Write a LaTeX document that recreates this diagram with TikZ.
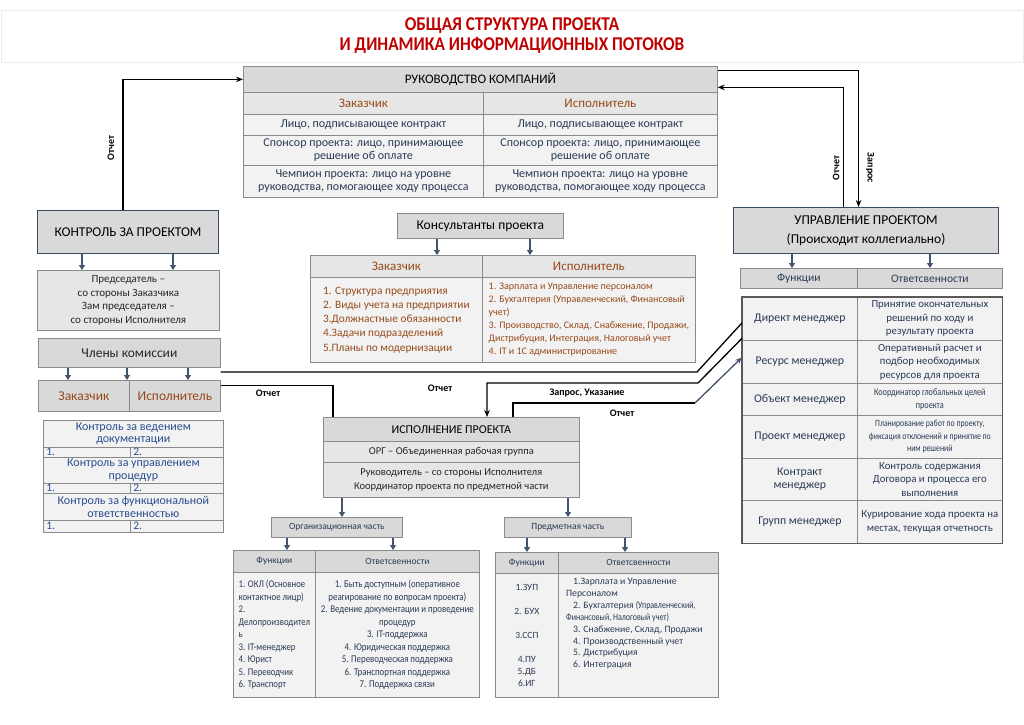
\documentclass[tikz,border=0pt]{standalone}
\usepackage{fontspec}
\setmainfont{Carlito}
\newfontfamily\cond[FakeStretch=0.82]{Carlito}
\newfontfamily\condb[FakeStretch=0.86]{Carlito}
\newfontfamily\titlef[FakeStretch=0.88]{Carlito}
\usetikzlibrary{arrows.meta}
\newcommand\fs[2]{\fontsize{#1}{#2}\selectfont}
\definecolor{hdr}{HTML}{D9D9D9}
\definecolor{subc}{HTML}{E6E6E6}
\definecolor{rowc}{HTML}{F2F2F2}
\definecolor{bordc}{HTML}{8A8A8A}
\definecolor{mainbord}{HTML}{3B4A66}
\definecolor{navy}{HTML}{2B3A55}
\definecolor{brownt}{HTML}{974A1A}
\definecolor{bluet}{HTML}{2A4D8F}
\definecolor{arr}{HTML}{44546A}
\definecolor{titler}{HTML}{C00000}
\definecolor{dtext}{HTML}{262626}
\tikzset{
 cellb/.style={draw=bordc, line width=0.7pt, inner sep=1pt, align=center, anchor=north west},
 hd/.style={cellb, fill=hdr, text=black, font=\fs{13}{15}},
 mainb/.style={hd, draw=mainbord, line width=1.1pt, font=\fs{13.5}{19}},
 sub/.style={cellb, fill=subc, text=brownt, font=\fs{13}{15}},
 rw/.style={cellb, fill=rowc, text=navy, font=\fs{12}{13}},
 gr/.style={cellb, fill=subc, text=dtext, font=\fs{11}{13.5}},
 kt/.style={cellb, fill=rowc, text=bluet, font=\fs{12}{12.5}},
 numc/.style={cellb, fill=rowc, text=bluet, font=\fs{11.5}{11}, inner ysep=0pt, text height=7pt, text depth=1.5pt},
 sh/.style={cellb, fill=hdr, text=navy, font=\fs{9.5}{11}},
 gar/.style={draw=arr, line width=1.5pt, -{Triangle[length=5pt,width=6pt]}},
 flow/.style={draw=black, line width=1.3pt},
 flowa/.style={flow, -{Stealth[length=7pt,width=5.5pt]}},
 lbl/.style={font=\bfseries\fs{10}{12}, inner sep=0pt, text=black},
}
\newcommand\bx[7]{\node[#6, minimum width={(#4-#2)*1pt}, minimum height={(#5-#3)*1pt}] (#1) at (#2,#3) {#7};}
\newcommand\bxl[7]{\node[#6, align=left, inner xsep=3pt, text width={(#4-#2-6)*1pt}, minimum height={(#5-#3)*1pt}] (#1) at (#2,#3) {#7};}
\begin{document}
\begin{tikzpicture}[x=1pt,y=-1pt]
\useasboundingbox[fill=white] (0,0) rectangle (1024,724);
% title
\bx{tframe}{1}{10}{1023}{62}{draw=black!8, line width=0.6pt, anchor=north west}{}
\node[font=\titlef\bfseries\fs{19.5}{20}, text=titler, align=center] (title) at (512,36) {ОБЩАЯ СТРУКТУРА ПРОЕКТА\\И ДИНАМИКА ИНФОРМАЦИОННЫХ ПОТОКОВ};
% management
\bx{mgmt}{243}{66}{717}{92}{hd}{РУКОВОДСТВО КОМПАНИЙ}
\bx{mz}{243}{92}{483}{114}{sub}{Заказчик}
\bx{mi}{483}{92}{717}{114}{sub}{Исполнитель}
\bx{mz1}{243}{114}{483}{135}{rw}{Лицо, подписывающее контракт}
\bx{mi1}{483}{114}{717}{135}{rw}{Лицо, подписывающее контракт}
\bx{mz2}{243}{135}{483}{165}{rw}{Спонсор проекта: лицо, принимающее\\решение об оплате}
\bx{mi2}{483}{135}{717}{165}{rw}{Спонсор проекта: лицо, принимающее\\решение об оплате}
\bx{mz3}{243}{165}{483}{197}{rw}{Чемпион проекта: лицо на уровне\\руководства, помогающее ходу процесса}
\bx{mi3}{483}{165}{717}{197}{rw}{Чемпион проекта: лицо на уровне\\руководства, помогающее ходу процесса}
% control
\bx{ctrl}{37}{210}{218}{253}{mainb}{КОНТРОЛЬ ЗА ПРОЕКТОМ}
\bx{chair}{37}{270}{219}{330}{gr}{Председатель –\\со стороны Заказчика\\Зам председателя –\\со стороны Исполнителя}
\bx{members}{38}{338}{220}{367}{gr, fill=hdr, font=\fs{13.5}{13}}{Члены комиссии}
\bx{memz}{38}{380}{129}{411}{sub, fill=hdr, font=\fs{13.5}{14}}{Заказчик}
\bx{memi}{129}{380}{220}{411}{sub, fill=hdr, font=\fs{13.5}{14}}{Исполнитель}
\bx{kt1}{43}{420}{223}{447}{kt}{Контроль за ведением\\документации}
\bxl{kt1a}{43}{447}{130}{457}{numc}{1.}
\bxl{kt1b}{130}{447}{223}{457}{numc}{2.}
\bx{kt2}{43}{457}{223}{483}{kt}{Контроль за управлением\\процедур}
\bxl{kt2a}{43}{483}{130}{493}{numc}{1.}
\bxl{kt2b}{130}{483}{223}{493}{numc}{2.}
\bx{kt3}{43}{493}{223}{520}{kt}{Контроль за функциональной\\ответственностью}
\bxl{kt3a}{43}{520}{130}{532}{numc}{1.}
\bxl{kt3b}{130}{520}{223}{532}{numc}{2.}
% consultants
\bx{cons}{397}{213}{563}{238}{hd, font=\fs{13.5}{15}}{Консультанты проекта}
\bx{cz}{310}{255}{482}{277}{sub}{Заказчик}
\bx{ci}{482}{255}{695}{277}{sub}{Исполнитель}
\bx{czb}{310}{277}{482}{362}{cellb, fill=rowc, text=brownt, align=left, font=\fs{11.3}{14.2}}{1. Структура предприятия\\2. Виды учета на предприятии\\3.Должнастные обязанности\\4.Задачи подразделений\\5.Планы по модернизации}
\bx{cib}{482}{277}{695}{362}{cellb, fill=rowc, text=brownt, align=left, font=\fs{10}{13}}{1. Зарплата и Управление персоналом\\2. Бухгалтерия (Управленческий, Финансовый\\учет)\\3. Производство, Склад, Снабжение, Продажи,\\Дистрибуция, Интеграция, Налоговый учет\\4. IT и 1С администрирование}
% project management
\bx{upr}{733}{207}{998}{253}{mainb}{УПРАВЛЕНИЕ ПРОЕКТОМ\\(Происходит коллегиально)}
\bx{uf}{740}{268}{857}{288}{hd, text=navy, font=\fs{11.5}{13}}{Функции}
\bx{uo}{857}{268}{1002}{288}{hd, text=navy, font=\fs{11.5}{13}}{Ответсвенности}
\bx{dir}{742}{297}{857}{340}{rw, font=\fs{11.8}{13.5}}{Директ менеджер}
\bx{dirr}{857}{297}{1002}{340}{rw, font=\fs{10.8}{13.5}}{Принятие окончательных\\решений по ходу и\\результату проекта}
\bx{res}{742}{340}{857}{383}{rw, font=\fs{11.8}{13.5}}{Ресурс менеджер}
\bx{resr}{857}{340}{1002}{383}{rw, font=\fs{10.8}{13.5}}{Оперативный расчет и\\подбор необходимых\\ресурсов для проекта}
\bx{obj}{742}{383}{857}{415}{rw, font=\fs{11.8}{13.5}}{Объект менеджер}
\bx{objr}{857}{383}{1002}{415}{rw, font=\cond\fs{10}{12.5}}{Координатор глобальных целей\\проекта}
\bx{prj}{742}{415}{857}{458}{rw, font=\fs{11.8}{13.5}}{Проект менеджер}
\bx{prjr}{857}{415}{1002}{458}{rw, font=\cond\fs{9.5}{12.5}}{Планирование работ по проекту,\\фиксация отклонений и принятие по\\ним решений}
\bx{ctr}{742}{458}{857}{500}{rw, font=\fs{11.8}{13.5}}{Контракт\\менеджер}
\bx{ctrr}{857}{458}{1002}{500}{rw, font=\fs{10.8}{13.5}}{Контроль содержания\\Договора и процесса его\\выполнения}
\bx{grp}{742}{500}{857}{543}{rw, font=\fs{11.8}{13.5}}{Групп менеджер}
\bx{grpr}{857}{500}{1002}{543}{rw, font=\fs{10.8}{13.5}}{Курирование хода проекта на\\местах, текущая отчетность}
\draw[draw=black!65, line width=1.2pt] (dir.north west) rectangle (grpr.south east);
% execution
\bx{exec}{323}{417}{579}{441}{hd, font=\fs{12}{14}}{ИСПОЛНЕНИЕ ПРОЕКТА}
\bx{exec2}{323}{441}{579}{462}{gr, font=\fs{10.5}{13}}{ОРГ – Объединенная рабочая группа}
\bx{exec3}{323}{462}{579}{497}{gr, font=\fs{10.5}{14}}{Руководитель – со стороны Исполнителя\\Координатор проекта по предметной части}
\bx{org}{271}{517}{402}{537}{sh}{Организационная часть}
\bx{subj}{504}{517}{631}{537}{sh}{Предметная часть}
\bx{blf}{233}{550}{315}{572}{sh}{Функции}
\bx{blo}{315}{550}{479}{572}{sh}{Ответсвенности}
\bx{blfb}{233}{572}{315}{697}{cellb, fill=rowc, text=navy, align=left, font=\condb\fs{10.2}{12.5}}{1. ОКЛ (Основное\\контактное лицр)\\2.\\Делопроизводител\\ь\\3. IT-менеджер\\4. Юрист\\5. Переводчик\\6. Транспорт}
\bx{blob}{315}{572}{479}{697}{cellb, fill=rowc, text=navy, font=\condb\fs{10.3}{12.5}}{1. Быть доступным (оперативное\\реагирование по вопросам проекта)\\2. Ведение документации и проведение\\процедур\\3. IT-поддержка\\4. Юридическая поддержка\\5. Переводческая поддержка\\6. Транспортная поддержка\\7. Поддержка связи}
\bx{brf}{495}{552}{558}{573}{sh}{Функции}
\bx{bro}{558}{552}{718}{573}{sh}{Ответсвенности}
\bx{brfb}{495}{573}{558}{697}{cellb, fill=rowc, text=navy, font=\fs{9.5}{11.9}}{1.ЗУП\\[11.9pt]2. БУХ\\[11.9pt]3.ССП\\[11.9pt]4.ПУ\\5.ДБ\\6.ИГ}
\bx{brob}{558}{573}{718}{697}{cellb, fill=rowc}{}
\node[anchor=north west, inner sep=0pt, align=left, text=navy, font=\fs{9.7}{11.9}] (brot) at (566,578) {\hspace{7pt}1.Зарплата и Управление\\Персоналом\\\hspace{7pt}2. Бухгалтерия {\cond(Управленческий,}\\{\cond Финансовый, Налоговый учет)}\\\hspace{7pt}3. Снабжение, Склад, Продажи\\\hspace{7pt}4. Производственный учет\\\hspace{7pt}5. Дистрибуция\\\hspace{7pt}6. Интеграция};
% grey arrows
\draw[gar] ([xshift=45pt]ctrl.south west) -- ([xshift=45pt]chair.north west);
\draw[gar] ([xshift=136pt]ctrl.south west) -- ([xshift=136pt]chair.north west);
\draw[gar] ([xshift=30pt]members.south west) -- ([xshift=30pt]memz.north west);
\draw[gar] ([xshift=89pt]members.south west) -- ([xshift=89pt]memz.north west);
\draw[gar] ([xshift=150pt]members.south west) -- ([xshift=59pt]memi.north west);
\draw[gar] ([xshift=40pt]cons.south west) -- ([xshift=127pt]cz.north west);
\draw[gar] ([xshift=133pt]cons.south west) -- ([xshift=48pt]ci.north west);
\draw[gar] ([xshift=59pt]upr.south west) -- ([xshift=52pt]uf.north west);
\draw[gar] ([xshift=197pt]upr.south west) -- ([xshift=73pt]uo.north west);
\draw[gar] ([xshift=19pt]exec3.south west) -- ([xshift=71pt]org.north west);
\draw[gar] ([xshift=245pt]exec3.south west) -- ([xshift=64pt]subj.north west);
\draw[gar] ([xshift=16pt]org.south west) -- ([xshift=54pt]blf.north west);
\draw[gar] ([xshift=122pt]org.south west) -- ([xshift=78pt]blo.north west);
\draw[gar] ([xshift=23pt]subj.south west) -- ([xshift=32pt]brf.north west);
\draw[gar] ([xshift=121pt]subj.south west) -- ([xshift=67pt]bro.north west);
% information flows
\draw[flowa] ([xshift=-5pt]ctrl.north) |- (mgmt.west);
\node[lbl, rotate=90] (l1) at (111,148) {Отчет};
\draw[flowa] ([yshift=9pt]mgmt.east) -| ([xshift=-7.5pt]upr.north);
\draw[flowa] ([xshift=-22.5pt]upr.north) |- ([yshift=-8pt]mgmt.east);
\node[lbl, rotate=90] (l2) at (836,168) {Отчет};
\node[lbl, rotate=-90] (l3) at (870,168) {Запрос};
\coordinate (b1) at (697,372);
\coordinate (b2) at (698,383);
\coordinate (b3) at (695,403);
\draw[flow] ([yshift=8pt]memi.north east) -- (b1) -- ([yshift=-4pt]dir.west);
\draw[flow] ([yshift=10.5pt]memi.east) -| ([xshift=10pt]exec.north west);
\node[lbl] (l4) at (268,393) {Отчет};
\draw[flowa] ([yshift=-19.5pt]dir.west) -- (b2) -| ([xshift=164pt]exec.north west);
\node[lbl] (l5) at (440,388) {Отчет};
\draw[flow] ([xshift=190pt]exec.north west) |- (b3);
\draw[flowa, draw=arr] (b3) -- ([yshift=4.5pt]res.west);
\node[lbl] (l6) at (587,393) {Запрос, Указание};
\node[lbl] (l7) at (622,413) {Отчет};
\end{tikzpicture}
\end{document}
